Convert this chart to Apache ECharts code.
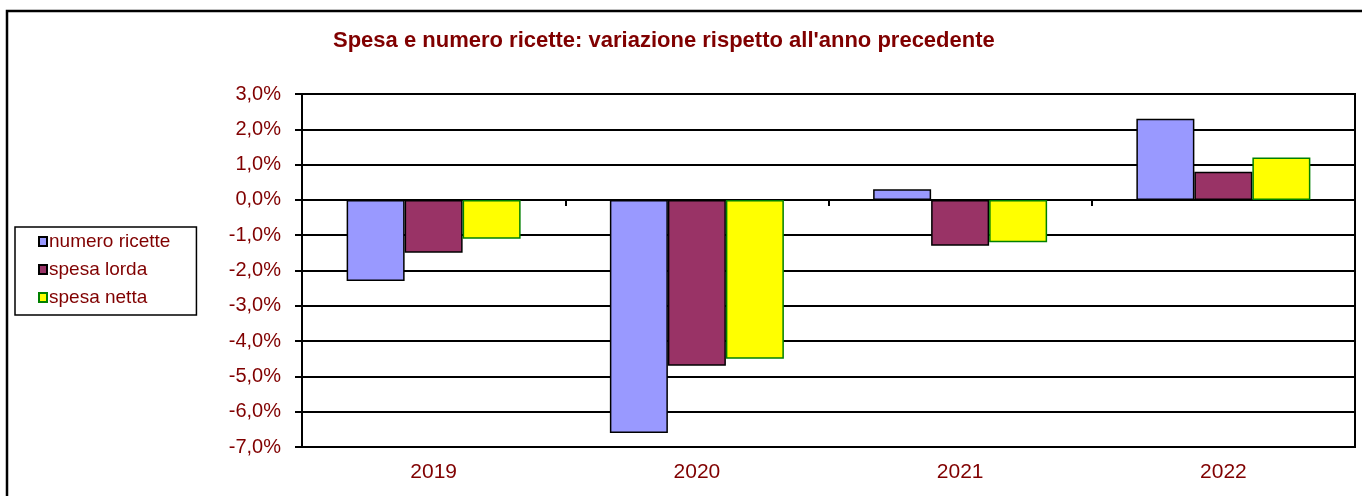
<!DOCTYPE html>
<html>
<head>
<meta charset="utf-8">
<script src="https://cdn.jsdelivr.net/npm/echarts@6/dist/echarts.min.js"></script>
<style>
  html, body { margin: 0; padding: 0; background: #fff; }
  #chart { width: 1362px; height: 496px; }
</style>
</head>
<body>
<div id="chart"></div>
<script>
  // dati (variazione % rispetto all'anno precedente)
  const years = ['2019', '2020', '2021', '2022'];
  const numeroRicette = [-2.3, -6.6, 0.3, 2.3];
  const spesaLorda = [-1.5, -4.7, -1.3, 0.8];
  const spesaNetta = [-1.1, -4.5, -1.2, 1.2];

  const red = '#800000';
  const font = 'Arial, "Liberation Sans", sans-serif';

  const chart = echarts.init(document.getElementById('chart'));
  chart.setOption({
    animation: false,
    textStyle: { fontFamily: font },
    title: {
      text: "Spesa e numero ricette: variazione rispetto all'anno precedente",
      left: 328,
      top: 25,
      textStyle: { color: red, fontSize: 22, fontWeight: 'bold', fontFamily: font }
    },
    graphic: [{
      type: 'rect',
      shape: { x: 7, y: 11, width: 1400, height: 600 },
      style: { fill: 'none', stroke: '#000', lineWidth: 2.5 },
      silent: true
    }],
    legend: {
      orient: 'vertical',
      left: 15,
      top: 227,
      padding: [5, 26, 8, 23],
      itemGap: 9,
      itemWidth: 8,
      itemHeight: 9,
      icon: 'rect',
      borderColor: '#000',
      borderWidth: 1.5,
      textStyle: { color: red, fontSize: 19, padding: [0, 0, 0, -3] },
      data: ['numero ricette', 'spesa lorda', 'spesa netta']
    },
    grid: {
      left: 302,
      right: 7,
      top: 94,
      bottom: 49,
      show: true,
      borderColor: '#000',
      borderWidth: 2
    },
    xAxis: [{
      type: 'category',
      data: years,
      axisLine: { onZero: true, lineStyle: { color: '#000', width: 2 } },
      axisTick: { show: true, length: 6, lineStyle: { color: '#000', width: 2 } },
      axisLabel: { show: false }
    }, {
      type: 'category',
      data: years,
      position: 'bottom',
      axisLine: { onZero: false, lineStyle: { color: '#000', width: 2 } },
      axisTick: { show: false },
      axisLabel: { color: red, fontSize: 21, margin: 15 }
    }],
    yAxis: {
      type: 'value',
      min: -7,
      max: 3,
      interval: 1,
      axisLine: { show: true, lineStyle: { color: '#000', width: 2 } },
      axisTick: { show: true, length: 7, lineStyle: { color: '#000', width: 2 } },
      splitLine: { lineStyle: { color: '#000', width: 2 } },
      axisLabel: {
        color: red,
        fontSize: 20,
        margin: 21,
        formatter: v => v.toFixed(1).replace('.', ',') + '%'
      }
    },
    series: [{
      name: 'numero ricette',
      type: 'bar',
      data: numeroRicette,
      barWidth: 58,
      barGap: '0%',
      itemStyle: { color: '#9999ff', borderColor: '#000', borderWidth: 1.5 }
    }, {
      name: 'spesa lorda',
      type: 'bar',
      data: spesaLorda,
      barWidth: 58,
      barGap: '0%',
      itemStyle: { color: '#993366', borderColor: '#000', borderWidth: 1.5 }
    }, {
      name: 'spesa netta',
      type: 'bar',
      data: spesaNetta,
      barWidth: 58,
      barGap: '0%',
      itemStyle: { color: '#ffff00', borderColor: '#008000', borderWidth: 1.5 }
    }]
  });
</script>
</body>
</html>
